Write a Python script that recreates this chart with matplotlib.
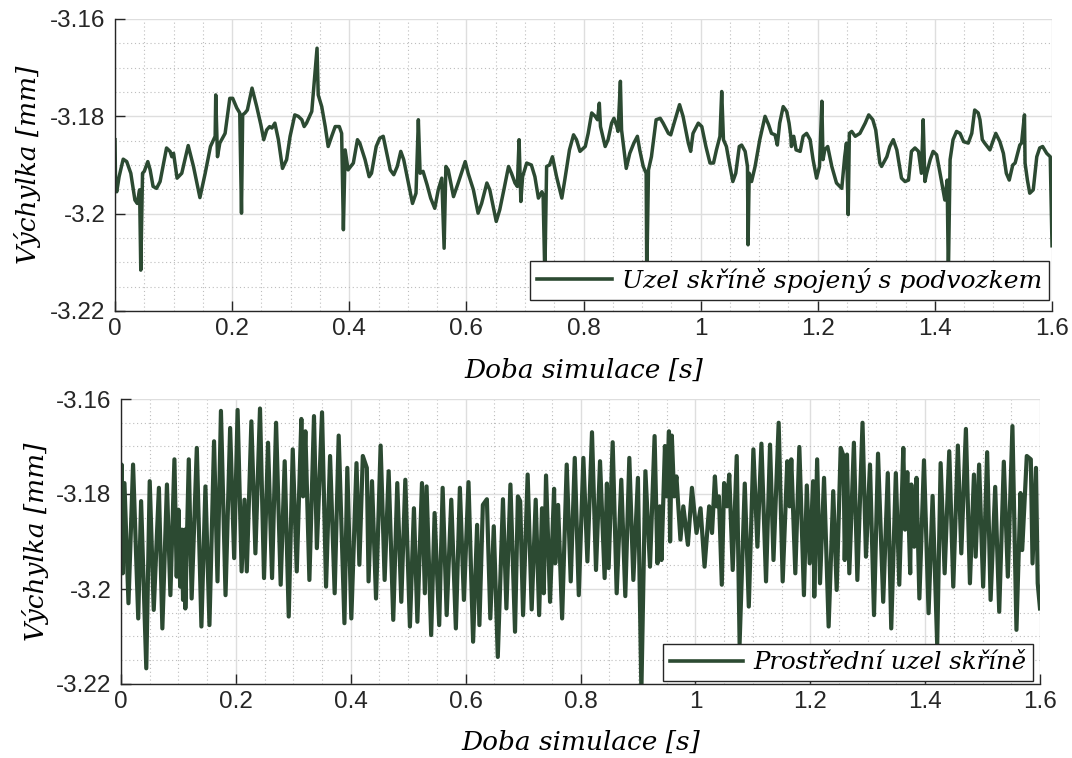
import matplotlib
matplotlib.use("Agg")
import matplotlib.pyplot as plt
from matplotlib.ticker import MultipleLocator, FuncFormatter

# Node of the car body connected to the bogie
t_top = [0.000, 0.001, 0.003, 0.007, 0.014, 0.020, 0.027, 0.034, 0.038, 0.042,
         0.044, 0.047, 0.050, 0.056, 0.060, 0.065, 0.071, 0.077, 0.088, 0.094,
         0.097, 0.100, 0.106, 0.114, 0.125, 0.134, 0.145, 0.154, 0.163, 0.171,
         0.172, 0.175, 0.179, 0.188, 0.196, 0.201, 0.208, 0.213, 0.216, 0.218,
         0.222, 0.226, 0.234, 0.242, 0.249, 0.254, 0.259, 0.264, 0.268, 0.273,
         0.279, 0.286, 0.293, 0.299, 0.307, 0.313, 0.319, 0.323, 0.327, 0.336,
         0.345, 0.347, 0.353, 0.359, 0.364, 0.370, 0.376, 0.383, 0.387, 0.390,
         0.393, 0.398, 0.407, 0.414, 0.418, 0.427, 0.434, 0.438, 0.446, 0.452,
         0.458, 0.464, 0.470, 0.476, 0.482, 0.488, 0.493, 0.501, 0.508, 0.514,
         0.518, 0.521, 0.526, 0.533, 0.539, 0.546, 0.552, 0.558, 0.562, 0.565,
         0.569, 0.578, 0.586, 0.598, 0.603, 0.612, 0.620, 0.626, 0.635, 0.640,
         0.651, 0.657, 0.664, 0.672, 0.677, 0.683, 0.687, 0.690, 0.693, 0.696,
         0.703, 0.711, 0.717, 0.723, 0.729, 0.731, 0.734, 0.737, 0.742, 0.747,
         0.754, 0.763, 0.768, 0.776, 0.783, 0.788, 0.794, 0.803, 0.808, 0.814,
         0.820, 0.824, 0.827, 0.829, 0.837, 0.842, 0.848, 0.852, 0.857, 0.859,
         0.863, 0.865, 0.873, 0.879, 0.886, 0.892, 0.896, 0.902, 0.907, 0.908,
         0.911, 0.916, 0.924, 0.931, 0.936, 0.945, 0.949, 0.953, 0.964, 0.970,
         0.979, 0.983, 0.987, 0.996, 1.002, 1.009, 1.016, 1.022, 1.027, 1.033,
         1.036, 1.039, 1.044, 1.049, 1.055, 1.060, 1.066, 1.070, 1.076, 1.080,
         1.081, 1.083, 1.087, 1.093, 1.101, 1.110, 1.116, 1.121, 1.127, 1.131,
         1.135, 1.141, 1.147, 1.151, 1.154, 1.155, 1.159, 1.163, 1.170, 1.175,
         1.181, 1.187, 1.192, 1.198, 1.203, 1.207, 1.209, 1.212, 1.217, 1.224,
         1.232, 1.241, 1.246, 1.249, 1.252, 1.254, 1.258, 1.264, 1.272, 1.281,
         1.287, 1.294, 1.299, 1.306, 1.309, 1.318, 1.323, 1.329, 1.335, 1.343,
         1.349, 1.355, 1.360, 1.366, 1.372, 1.377, 1.380, 1.383, 1.386, 1.392,
         1.397, 1.403, 1.411, 1.417, 1.421, 1.423, 1.426, 1.431, 1.437, 1.443,
         1.449, 1.457, 1.463, 1.468, 1.474, 1.477, 1.481, 1.485, 1.494, 1.500,
         1.504, 1.511, 1.517, 1.522, 1.527, 1.533, 1.537, 1.545, 1.548, 1.553,
         1.554, 1.558, 1.562, 1.568, 1.574, 1.579, 1.584, 1.591, 1.597, 1.600]
y_top = [-3.1848, -3.1944, -3.1955, -3.1924, -3.1888, -3.1893, -3.1917, -3.1972, -3.1979, -3.1951,
         -3.2116, -3.1917, -3.1913, -3.1893, -3.1910, -3.1944, -3.1948, -3.1934, -3.1865, -3.1872,
         -3.1883, -3.1876, -3.1927, -3.1917, -3.1860, -3.1903, -3.1967, -3.1917, -3.1862, -3.1841,
         -3.1756, -3.1883, -3.1855, -3.1835, -3.1763, -3.1763, -3.1783, -3.1793, -3.1999, -3.1797,
         -3.1793, -3.1787, -3.1742, -3.1780, -3.1817, -3.1848, -3.1828, -3.1821, -3.1824, -3.1814,
         -3.1848, -3.1907, -3.1889, -3.1841, -3.1797, -3.1800, -3.1807, -3.1821, -3.1814, -3.1790,
         -3.1660, -3.1756, -3.1780, -3.1821, -3.1862, -3.1841, -3.1821, -3.1821, -3.1835, -3.2033,
         -3.1869, -3.1910, -3.1896, -3.1848, -3.1855, -3.1889, -3.1924, -3.1917, -3.1862, -3.1845,
         -3.1841, -3.1876, -3.1910, -3.1920, -3.1903, -3.1872, -3.1889, -3.1937, -3.1979, -3.1958,
         -3.1807, -3.1917, -3.1913, -3.1941, -3.1968, -3.1989, -3.1951, -3.1927, -3.2071, -3.1903,
         -3.1910, -3.1965, -3.1937, -3.1893, -3.1917, -3.1951, -3.1999, -3.1979, -3.1937, -3.1951,
         -3.2016, -3.1992, -3.1951, -3.1903, -3.1917, -3.1937, -3.1944, -3.1848, -3.1975, -3.1924,
         -3.1896, -3.1900, -3.1924, -3.1968, -3.1955, -3.1961, -3.2130, -3.1903, -3.1900, -3.1883,
         -3.1924, -3.1968, -3.1931, -3.1869, -3.1838, -3.1848, -3.1872, -3.1862, -3.1835, -3.1793,
         -3.1800, -3.1807, -3.1773, -3.1821, -3.1862, -3.1848, -3.1814, -3.1804, -3.1821, -3.1831,
         -3.1728, -3.1828, -3.1907, -3.1876, -3.1855, -3.1841, -3.1869, -3.1903, -3.1917, -3.2130,
         -3.1910, -3.1883, -3.1807, -3.1804, -3.1814, -3.1835, -3.1838, -3.1821, -3.1776, -3.1800,
         -3.1855, -3.1872, -3.1835, -3.1814, -3.1821, -3.1862, -3.1896, -3.1896, -3.1869, -3.1841,
         -3.1749, -3.1848, -3.1862, -3.1896, -3.1934, -3.1917, -3.1862, -3.1859, -3.1872, -3.1903,
         -3.2064, -3.1917, -3.1934, -3.1903, -3.1848, -3.1800, -3.1817, -3.1835, -3.1838, -3.1859,
         -3.1814, -3.1780, -3.1790, -3.1814, -3.1841, -3.1862, -3.1841, -3.1869, -3.1872, -3.1841,
         -3.1835, -3.1848, -3.1889, -3.1927, -3.1903, -3.1769, -3.1889, -3.1869, -3.1862, -3.1903,
         -3.1937, -3.1948, -3.1883, -3.1855, -3.2002, -3.1835, -3.1831, -3.1841, -3.1835, -3.1814,
         -3.1797, -3.1807, -3.1828, -3.1896, -3.1903, -3.1883, -3.1862, -3.1848, -3.1869, -3.1927,
         -3.1934, -3.1931, -3.1872, -3.1865, -3.1872, -3.1917, -3.1807, -3.1934, -3.1917, -3.1889,
         -3.1872, -3.1879, -3.1931, -3.1972, -3.1931, -3.2130, -3.1889, -3.1848, -3.1831, -3.1835,
         -3.1852, -3.1855, -3.1835, -3.1787, -3.1793, -3.1807, -3.1848, -3.1855, -3.1869, -3.1848,
         -3.1835, -3.1852, -3.1876, -3.1917, -3.1931, -3.1900, -3.1896, -3.1859, -3.1855, -3.1797,
         -3.1896, -3.1931, -3.1958, -3.1951, -3.1883, -3.1865, -3.1862, -3.1876, -3.1883, -3.2066]

# Middle node of the car body
t_mid = [0.000, 0.001, 0.003, 0.006, 0.013, 0.021, 0.030, 0.035, 0.044, 0.050,
         0.057, 0.066, 0.072, 0.080, 0.086, 0.093, 0.097, 0.100, 0.103, 0.106,
         0.108, 0.111, 0.112, 0.118, 0.123, 0.132, 0.140, 0.147, 0.154, 0.162,
         0.168, 0.174, 0.182, 0.190, 0.197, 0.203, 0.210, 0.215, 0.219, 0.227,
         0.234, 0.242, 0.249, 0.256, 0.263, 0.270, 0.278, 0.285, 0.292, 0.299,
         0.306, 0.314, 0.317, 0.321, 0.328, 0.336, 0.341, 0.350, 0.357, 0.364,
         0.372, 0.379, 0.389, 0.394, 0.401, 0.410, 0.415, 0.421, 0.428, 0.431,
         0.437, 0.444, 0.452, 0.459, 0.466, 0.474, 0.481, 0.488, 0.495, 0.503,
         0.510, 0.516, 0.524, 0.529, 0.532, 0.540, 0.546, 0.554, 0.560, 0.567,
         0.575, 0.583, 0.590, 0.597, 0.605, 0.613, 0.620, 0.624, 0.630, 0.637,
         0.643, 0.649, 0.656, 0.665, 0.671, 0.678, 0.686, 0.691, 0.695, 0.700,
         0.708, 0.715, 0.722, 0.728, 0.733, 0.736, 0.740, 0.747, 0.754, 0.756,
         0.761, 0.768, 0.776, 0.783, 0.790, 0.797, 0.805, 0.812, 0.820, 0.827,
         0.834, 0.842, 0.846, 0.849, 0.856, 0.863, 0.871, 0.878, 0.885, 0.892,
         0.900, 0.906, 0.913, 0.921, 0.929, 0.934, 0.938, 0.941, 0.947, 0.950,
         0.954, 0.956, 0.959, 0.963, 0.967, 0.974, 0.979, 0.987, 0.994, 1.002,
         1.009, 1.016, 1.024, 1.029, 1.034, 1.037, 1.041, 1.046, 1.050, 1.055,
         1.059, 1.065, 1.072, 1.077, 1.086, 1.093, 1.101, 1.108, 1.115, 1.123,
         1.130, 1.136, 1.145, 1.152, 1.160, 1.164, 1.167, 1.174, 1.181, 1.189,
         1.194, 1.199, 1.205, 1.207, 1.212, 1.217, 1.224, 1.232, 1.240, 1.246,
         1.253, 1.258, 1.260, 1.264, 1.268, 1.276, 1.282, 1.291, 1.297, 1.304,
         1.311, 1.318, 1.327, 1.335, 1.341, 1.349, 1.355, 1.362, 1.365, 1.369,
         1.374, 1.376, 1.381, 1.385, 1.390, 1.398, 1.406, 1.413, 1.421, 1.427,
         1.434, 1.442, 1.449, 1.457, 1.463, 1.471, 1.478, 1.485, 1.488, 1.494,
         1.501, 1.508, 1.514, 1.522, 1.529, 1.537, 1.544, 1.552, 1.559, 1.566,
         1.569, 1.577, 1.584, 1.587, 1.593, 1.596, 1.600]
y_mid = [-3.1935, -3.1738, -3.1967, -3.1777, -3.2030, -3.1738, -3.2062, -3.1815, -3.2167, -3.1773,
         -3.2044, -3.1787, -3.2083, -3.1780, -3.2013, -3.1727, -3.1974, -3.1833, -3.1995, -3.1875,
         -3.2023, -3.1875, -3.2041, -3.1727, -3.2020, -3.1703, -3.2079, -3.1784, -3.2076, -3.1689,
         -3.1984, -3.1625, -3.2013, -3.1661, -3.1935, -3.1623, -3.1963, -3.1812, -3.1963, -3.1647,
         -3.1925, -3.1620, -3.1977, -3.1692, -3.1977, -3.1650, -3.1991, -3.1731, -3.2058, -3.1706,
         -3.1963, -3.1642, -3.1805, -3.1668, -3.1981, -3.1636, -3.1914, -3.1628, -3.1995, -3.1720,
         -3.2009, -3.1677, -3.2072, -3.1745, -3.2062, -3.1735, -3.1949, -3.1720, -3.1745, -3.1984,
         -3.1773, -3.2020, -3.1698, -3.1981, -3.1752, -3.2065, -3.1777, -3.2027, -3.1770, -3.2079,
         -3.1830, -3.2069, -3.1777, -3.2009, -3.1784, -3.2097, -3.1840, -3.2076, -3.1787, -3.2055,
         -3.1812, -3.2083, -3.1787, -3.2023, -3.1775, -3.2111, -3.1865, -3.2076, -3.1823, -3.1811,
         -3.2062, -3.1868, -3.2143, -3.1811, -3.2041, -3.1780, -3.2090, -3.1805, -3.1815, -3.2055,
         -3.1759, -3.2043, -3.1812, -3.2055, -3.1830, -3.2009, -3.1761, -3.2027, -3.1789, -3.1946,
         -3.1823, -3.2062, -3.1738, -3.1984, -3.1724, -3.2013, -3.1724, -3.1942, -3.1670, -3.1960,
         -3.1731, -3.1977, -3.1778, -3.1956, -3.1691, -3.2009, -3.1770, -3.2015, -3.1724, -3.1981,
         -3.1766, -3.2215, -3.1752, -3.1953, -3.1678, -3.1946, -3.1826, -3.1939, -3.1699, -3.1805,
         -3.1668, -3.1900, -3.1677, -3.1805, -3.1763, -3.1896, -3.1826, -3.1907, -3.1787, -3.1882,
         -3.1830, -3.1953, -3.1826, -3.1882, -3.1763, -3.1826, -3.1805, -3.1991, -3.1777, -3.1826,
         -3.1759, -3.1960, -3.1720, -3.2115, -3.1778, -3.2037, -3.1706, -3.1911, -3.1694, -3.1984,
         -3.1696, -3.1939, -3.1650, -3.1984, -3.1731, -3.1826, -3.1727, -3.1967, -3.1701, -3.2013,
         -3.1782, -3.1946, -3.1773, -3.2016, -3.1727, -3.1988, -3.1766, -3.2079, -3.1794, -3.2002,
         -3.1703, -3.1720, -3.1939, -3.1717, -3.1967, -3.1692, -3.1981, -3.1650, -3.1932, -3.1738,
         -3.2055, -3.1715, -3.2027, -3.1756, -3.2083, -3.1756, -3.1991, -3.1703, -3.1875, -3.1754,
         -3.1967, -3.1780, -3.1911, -3.1766, -3.2020, -3.1729, -3.2051, -3.1804, -3.2118, -3.1735,
         -3.1967, -3.1710, -3.1995, -3.1698, -3.1925, -3.1663, -3.1988, -3.1759, -3.1932, -3.1738,
         -3.1995, -3.1712, -3.2023, -3.1785, -3.2048, -3.1732, -3.1974, -3.1657, -3.2086, -3.1798,
         -3.1918, -3.1720, -3.1727, -3.1946, -3.1745, -3.1988, -3.2041]

label_top = "Uzel skříně spojený s podvozkem"
label_mid = "Prostřední uzel skříně"
x_label = "Doba simulace [s]"
y_label = "Výchylka [mm]"

line_color = "#2c4a32"
label_font = "DejaVu Serif"

plt.rcParams["font.family"] = ["Liberation Sans", "DejaVu Sans"]

fig = plt.figure(figsize=(10.72, 7.58), dpi=100)
ax_top = fig.add_axes([115 / 1072, 1 - 311 / 758, 937 / 1072, 292 / 758])
ax_mid = fig.add_axes([121 / 1072, 1 - 684 / 758, 919 / 1072, 285 / 758])

fmt = FuncFormatter(lambda v, pos: "%g" % round(v, 4))


def style(ax, t, y, label, legend_anchor, legend_size, ylab_x, xlab_y, lw):
    ax.plot(t, y, color=line_color, lw=lw, label=label, solid_joinstyle="round")
    ax.set_xlim(0, 1.6)
    ax.set_ylim(-3.22, -3.16)
    ax.xaxis.set_major_locator(MultipleLocator(0.2))
    ax.xaxis.set_minor_locator(MultipleLocator(0.05))
    ax.yaxis.set_major_locator(MultipleLocator(0.02))
    ax.yaxis.set_minor_locator(MultipleLocator(0.005))
    ax.xaxis.set_major_formatter(fmt)
    ax.yaxis.set_major_formatter(fmt)
    ax.set_axisbelow(True)
    ax.grid(which="major", color="#dedede", lw=1.0, ls="-")
    ax.grid(which="minor", color="#bdbdbd", lw=0.8, ls=(0, (1, 2.5)))
    for side in ("top", "right"):
        ax.spines[side].set_visible(False)
    for side in ("left", "bottom"):
        ax.spines[side].set_color("#262626")
        ax.spines[side].set_linewidth(1.0)
    ax.tick_params(which="major", direction="in", length=7, width=1.0,
                   color="#262626", labelcolor="#262626", labelsize=17.5)
    ax.tick_params(axis="x", which="major", pad=5)
    ax.tick_params(axis="y", which="major", pad=7)
    ax.tick_params(which="minor", length=0)
    ax.set_xlabel(x_label, fontsize=19, fontstyle="italic", family=label_font, va="center")
    ax.set_ylabel(y_label, fontsize=19, fontstyle="italic", family=label_font, va="center")
    ax.xaxis.set_label_coords(0.5, xlab_y)
    ax.yaxis.set_label_coords(ylab_x, 0.5)
    leg = ax.legend(loc="lower right", bbox_to_anchor=legend_anchor, borderaxespad=0,
                    prop={"family": label_font, "style": "italic", "size": legend_size},
                    handlelength=3.0, handletextpad=0.4, borderpad=0.28,
                    fancybox=False, framealpha=1, edgecolor="#262626")
    leg.get_frame().set_linewidth(1.0)
    for h in leg.get_lines():
        h.set_linewidth(2.6)


style(ax_top, t_top, y_top, label_top, (0.9968, 0.0377), 18, -0.093, -0.202, 2.5)
style(ax_mid, t_mid, y_mid, label_mid, (0.9924, 0.0105), 17.6, -0.0925, -0.2035, 3.0)

fig.savefig("out.png", dpi=100)
